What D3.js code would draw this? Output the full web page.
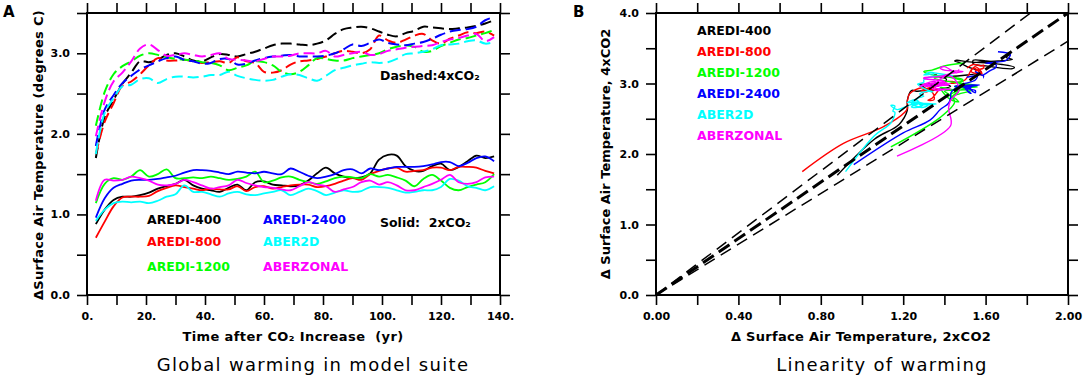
<!DOCTYPE html>
<html>
<head>
<meta charset="utf-8">
<script src="https://cdn.jsdelivr.net/npm/d3@7"></script>
<style>
body { margin: 0; background: #fff; }
text { font-family: "DejaVu Sans", sans-serif; }
</style>
</head>
<body>
<svg id="chart" width="1084" height="381"></svg>
<script>
// years after CO2 increase (sampled every 3 yr)
var years = [3,6,9,12,15,18,21,24,27,30,33,36,39,42,45,48,51,54,57,60,63,66,69,72,75,78,81,84,87,90,93,96,99,102,105,108,111,114,117,120,123,126,129,132,135,138];

// 2xCO2 runs (solid)
var sat2x_aredi400 = [0.88,1.06,1.18,1.22,1.22,1.24,1.27,1.32,1.35,1.38,1.43,1.36,1.32,1.30,1.28,1.33,1.37,1.30,1.40,1.41,1.37,1.36,1.35,1.36,1.42,1.51,1.58,1.51,1.47,1.45,1.46,1.51,1.68,1.74,1.73,1.60,1.54,1.54,1.60,1.63,1.55,1.59,1.66,1.73,1.70,1.72];
var sat2x_aredi800 = [0.71,0.91,1.10,1.21,1.22,1.22,1.23,1.29,1.33,1.36,1.34,1.32,1.30,1.32,1.31,1.31,1.35,1.29,1.34,1.35,1.32,1.34,1.36,1.37,1.37,1.34,1.35,1.38,1.42,1.45,1.43,1.50,1.54,1.57,1.58,1.53,1.54,1.55,1.58,1.58,1.55,1.59,1.59,1.58,1.54,1.51];
var sat2x_aredi1200 = [1.14,1.38,1.45,1.43,1.47,1.55,1.47,1.50,1.56,1.45,1.45,1.46,1.45,1.47,1.45,1.43,1.44,1.47,1.53,1.40,1.42,1.46,1.47,1.43,1.40,1.38,1.41,1.45,1.47,1.46,1.45,1.50,1.47,1.49,1.46,1.42,1.35,1.44,1.49,1.42,1.33,1.30,1.34,1.37,1.40,1.50];
var sat2x_aredi2400 = [0.96,1.20,1.33,1.38,1.42,1.43,1.43,1.44,1.46,1.48,1.52,1.55,1.55,1.54,1.52,1.50,1.53,1.52,1.51,1.53,1.51,1.50,1.57,1.53,1.48,1.45,1.47,1.50,1.55,1.56,1.51,1.57,1.55,1.57,1.59,1.59,1.59,1.60,1.62,1.65,1.65,1.60,1.64,1.70,1.72,1.66];
var sat2x_aber2d = [0.92,1.06,1.14,1.16,1.15,1.16,1.14,1.17,1.22,1.25,1.36,1.28,1.28,1.25,1.22,1.26,1.28,1.25,1.24,1.26,1.28,1.30,1.24,1.28,1.32,1.29,1.24,1.27,1.30,1.28,1.29,1.34,1.34,1.33,1.30,1.27,1.28,1.30,1.30,1.34,1.44,1.42,1.35,1.33,1.30,1.35];
var sat2x_aberzonal = [1.17,1.43,1.42,1.43,1.47,1.45,1.42,1.37,1.36,1.38,1.43,1.40,1.36,1.32,1.34,1.36,1.43,1.39,1.36,1.34,1.33,1.31,1.30,1.35,1.40,1.37,1.35,1.28,1.31,1.34,1.40,1.42,1.37,1.40,1.36,1.30,1.30,1.34,1.38,1.43,1.49,1.40,1.38,1.40,1.46,1.47];

// 4xCO2 runs (dashed)
var sat4x_aredi400 = [1.70,2.21,2.42,2.62,2.76,2.90,2.89,2.92,2.98,3.00,2.96,2.91,2.90,2.95,2.99,2.98,2.96,2.99,3.02,3.06,3.10,3.12,3.12,3.11,3.10,3.12,3.16,3.24,3.30,3.32,3.33,3.31,3.27,3.23,3.21,3.25,3.28,3.33,3.32,3.31,3.30,3.31,3.32,3.34,3.37,3.41];
var sat4x_aredi800 = [1.75,2.15,2.38,2.60,2.65,2.74,2.85,2.94,2.91,2.91,2.92,2.90,2.88,2.89,2.90,2.88,2.95,2.90,2.88,2.77,2.76,2.79,2.86,2.90,2.91,2.93,2.96,3.00,3.03,3.02,3.00,3.05,3.22,3.16,3.13,3.17,3.22,3.24,3.16,3.12,3.18,3.22,3.26,3.25,3.27,3.22];
var sat4x_aredi1200 = [2.10,2.52,2.74,2.84,2.90,2.97,3.00,2.98,2.95,2.93,2.92,2.91,2.89,2.88,2.85,2.79,2.82,2.85,2.90,2.89,2.85,2.77,2.74,2.77,2.85,2.94,2.93,2.91,2.91,2.94,2.96,2.98,3.00,3.05,3.08,3.10,3.08,3.02,3.03,3.09,3.13,3.17,3.19,3.22,3.25,3.29];
var sat4x_aredi2400 = [1.85,2.30,2.48,2.63,2.72,2.80,2.85,2.90,2.94,2.96,2.92,2.90,2.87,2.88,2.93,2.93,2.86,2.87,2.91,2.94,2.96,2.97,2.98,2.96,2.96,2.96,2.97,3.00,3.05,3.11,3.09,3.13,3.17,3.13,3.11,3.10,3.12,3.14,3.18,3.23,3.27,3.29,3.30,3.33,3.41,3.45];
var sat4x_aber2d = [1.75,2.26,2.44,2.59,2.61,2.68,2.69,2.63,2.68,2.71,2.71,2.70,2.71,2.73,2.73,2.77,2.72,2.69,2.67,2.66,2.67,2.71,2.74,2.73,2.69,2.66,2.72,2.79,2.82,2.85,2.87,2.89,2.88,2.89,2.93,2.99,3.00,3.02,3.05,3.10,3.11,3.12,3.15,3.16,3.12,3.14];
var sat4x_aberzonal = [1.97,2.40,2.65,2.76,2.90,3.06,3.11,3.04,2.97,2.98,3.00,2.98,2.96,2.98,3.00,2.93,2.92,2.91,2.90,2.93,2.96,2.96,2.97,3.00,3.00,3.00,3.03,2.96,2.98,3.00,3.02,2.98,2.99,3.03,3.05,3.07,3.08,3.09,3.10,3.14,3.17,3.19,3.22,3.24,3.15,3.20];

var modelNames = ["AREDI-400","AREDI-800","AREDI-1200","AREDI-2400","ABER2D","ABERZONAL"];
var modelColors = ["#000000","#ff0000","#00ff00","#0000ff","#00ffff","#ff00ff"];

// axis ticks
var timeTicks = [0,10,20,30,40,50,60,70,80,90,100,110,120,130,140];
var timeLabels = ["0.","","20.","","40.","","60.","","80.","","100.","","120.","","140."];
var tempTicksA = [0,0.5,1,1.5,2,2.5,3,3.5];
var tempLabelsA = ["0.0","","1.0","","2.0","","3.0",""];
var warmTicks2x = [0,0.2,0.4,0.6,0.8,1.0,1.2,1.4,1.6,1.8,2.0];
var warmLabels2x = ["0.00","","0.40","","0.80","","1.20","","1.60","","2.00"];
var warmTicks4x = [0,0.5,1,1.5,2,2.5,3,3.5,4];
var warmLabels4x = ["0.0","","1.0","","2.0","","3.0","","4.0"];
// reference lines in panel B: 4x = slope * 2x
var refSlopes = [1.8, 2.0, 2.2];

var sat2x = [sat2x_aredi400, sat2x_aredi800, sat2x_aredi1200, sat2x_aredi2400, sat2x_aber2d, sat2x_aberzonal];
var sat4x = [sat4x_aredi400, sat4x_aredi800, sat4x_aredi1200, sat4x_aredi2400, sat4x_aber2d, sat4x_aberzonal];

var models = modelNames.map(function(name, i) {
	return {
		name: name,
		color: modelColors[i],
		solid: years.map((t, j) => ({t: t, v: sat2x[i][j]})),
		dashed: years.map((t, j) => ({t: t, v: sat4x[i][j]})),
		pairs: years.map((t, j) => ({x: sat2x[i][j], y: sat4x[i][j]}))
	};
});

var svg = d3.select("#chart");
const TICK = 10;

function drawFrame(g, x, y, xTicks, xLabels, yTicks, yLabels) {
	var xr = x.range(), yr = y.range();
	var fx = d3.scaleOrdinal().domain(xTicks).range(xLabels);
	var fy = d3.scaleOrdinal().domain(yTicks).range(yLabels);

	var bottom = g.append("g")
		.attr("transform", "translate(0," + yr[0] + ")")
		.call(d3.axisBottom(x).tickValues(xTicks).tickSize(TICK).tickSizeOuter(0).tickPadding(7).tickFormat(d => fx(d)));
	var top = g.append("g")
		.attr("transform", "translate(0," + yr[1] + ")")
		.call(d3.axisTop(x).tickValues(xTicks).tickSize(TICK).tickSizeOuter(0).tickFormat(""));
	var left = g.append("g")
		.attr("transform", "translate(" + xr[0] + ",0)")
		.call(d3.axisLeft(y).tickValues(yTicks).tickSize(TICK).tickSizeOuter(0).tickPadding(7).tickFormat(d => fy(d)));
	var right = g.append("g")
		.attr("transform", "translate(" + xr[1] + ",0)")
		.call(d3.axisRight(y).tickValues(yTicks).tickSize(TICK).tickSizeOuter(0).tickFormat(""));

	[bottom, top, left, right].forEach(function(a) {
		a.select(".domain").remove();
		a.selectAll("line").attr("stroke", "#000").attr("stroke-width", 1.6);
		a.selectAll("text")
			.attr("fill", "#000")
			.attr("font-family", "DejaVu Sans")
			.attr("font-weight", "bold")
			.style("font-size", "11px");
	});

	g.append("rect")
		.attr("x", xr[0])
		.attr("y", yr[1])
		.attr("width", xr[1] - xr[0])
		.attr("height", yr[0] - yr[1])
		.attr("fill", "none")
		.attr("stroke", "#000")
		.attr("stroke-width", 2);
}

// ---------- panel A ----------
var xA = d3.scaleLinear().domain([0, 140]).range([87, 500]);
var yA = d3.scaleLinear().domain([0, 3.5]).range([295, 13]);
var gA = svg.append("g");

var lineA = d3.line()
	.x(d => xA(d.t))
	.y(d => yA(d.v))
	.curve(d3.curveCatmullRom);

gA.append("g")
	.selectAll("path")
	.data(models)
	.enter()
	.append("path")
	.attr("d", d => lineA(d.dashed))
	.attr("fill", "none")
	.attr("stroke", d => d.color)
	.attr("stroke-width", 2)
	.attr("stroke-dasharray", "11,5");

gA.append("g")
	.selectAll("path")
	.data(models)
	.enter()
	.append("path")
	.attr("d", d => lineA(d.solid))
	.attr("fill", "none")
	.attr("stroke", d => d.color)
	.attr("stroke-width", 1.8);

drawFrame(gA, xA, yA, timeTicks, timeLabels, tempTicksA, tempLabelsA);

// legend A
gA.append("g")
	.selectAll("text")
	.data(models)
	.enter()
	.append("text")
	.attr("x", (d, i) => i < 3 ? 147 : 263)
	.attr("y", (d, i) => [224, 246, 271][i % 3])
	.attr("fill", d => d.color)
	.attr("font-weight", "bold")
	.style("font-size", "12.5px")
	.text(d => d.name);

gA.append("text").attr("x", 380).attr("y", 80).attr("font-weight", "bold").style("font-size", "12.5px").text("Dashed:4xCO\u2082");
gA.append("text").attr("x", 380).attr("y", 227).attr("font-weight", "bold").style("font-size", "12.5px").attr("xml:space", "preserve").text("Solid:  2xCO\u2082");

gA.append("text")
	.attr("transform", "translate(43,155)rotate(-90)")
	.attr("text-anchor", "middle")
	.attr("font-weight", "bold")
	.style("font-size", "13px")
	.style("letter-spacing", "0.3px")
	.text("\u0394Surface Air Temperature (degrees C)");
gA.append("text")
	.attr("x", 293).attr("y", 341)
	.attr("text-anchor", "middle")
	.attr("font-weight", "bold")
	.style("font-size", "13px")
	.style("letter-spacing", "0.4px")
	.attr("xml:space", "preserve")
	.text("Time after CO\u2082 Increase  (yr)");
gA.append("text")
	.attr("x", 313).attr("y", 371)
	.attr("text-anchor", "middle")
	.style("font-size", "18px")
	.style("letter-spacing", "1.3px")
	.text("Global warming in model suite");
gA.append("text")
	.attr("x", 3).attr("y", 17)
	.attr("font-weight", "bold")
	.style("font-size", "15px")
	.text("A");

// ---------- panel B ----------
var xB = d3.scaleLinear().domain([0, 2]).range([656, 1068]);
var yB = d3.scaleLinear().domain([0, 4]).range([295, 13]);
var gB = svg.append("g");

var lineB = d3.line()
	.x(d => xB(d.x))
	.y(d => yB(d.y))
	.curve(d3.curveCatmullRom);

gB.append("g")
	.selectAll("path")
	.data(models)
	.enter()
	.append("path")
	.attr("d", d => lineB(d.pairs))
	.attr("fill", "none")
	.attr("stroke", d => d.color)
	.attr("stroke-width", 1.4);

gB.append("g")
	.selectAll("line")
	.data(refSlopes)
	.enter()
	.append("line")
	.attr("x1", xB(0))
	.attr("y1", yB(0))
	.attr("x2", s => xB(Math.min(xB.domain()[1], yB.domain()[1] / s)))
	.attr("y2", s => yB(Math.min(yB.domain()[1], xB.domain()[1] * s)))
	.attr("stroke", "#000")
	.attr("stroke-width", s => s === 2.0 ? 3 : 1.5)
	.attr("stroke-dasharray", s => s === 2.0 ? "13,6" : "12,7");

drawFrame(gB, xB, yB, warmTicks2x, warmLabels2x, warmTicks4x, warmLabels4x);

gB.append("g")
	.selectAll("text")
	.data(models)
	.enter()
	.append("text")
	.attr("x", 697)
	.attr("y", (d, i) => 35 + i * 21)
	.attr("fill", d => d.color)
	.attr("font-weight", "bold")
	.style("font-size", "12.5px")
	.text(d => d.name);

gB.append("text")
	.attr("transform", "translate(610,154)rotate(-90)")
	.attr("text-anchor", "middle")
	.attr("font-weight", "bold")
	.style("font-size", "13px")
	.text("\u0394 Surface Air Temperature, 4xCO2");
gB.append("text")
	.attr("x", 861).attr("y", 341)
	.attr("text-anchor", "middle")
	.attr("font-weight", "bold")
	.style("font-size", "13px")
	.style("letter-spacing", "0.3px")
	.text("\u0394 Surface Air Temperature, 2xCO2");
gB.append("text")
	.attr("x", 882).attr("y", 371)
	.attr("text-anchor", "middle")
	.style("font-size", "18px")
	.style("letter-spacing", "1.3px")
	.text("Linearity of warming");
gB.append("text")
	.attr("x", 573).attr("y", 17)
	.attr("font-weight", "bold")
	.style("font-size", "15px")
	.text("B");
</script>
</body>
</html>
